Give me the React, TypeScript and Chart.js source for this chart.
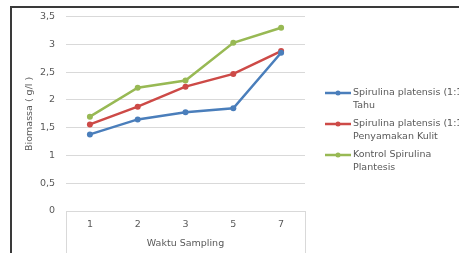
import React, { useEffect, useRef } from "react";
import { Chart, registerables } from "chart.js";

Chart.register(...registerables);

const categories = ["1", "2", "3", "5", "7"];
const seriesNames = [
  ["Spirulina platensis (1:1) Limbah", "Tahu"],
  ["Spirulina platensis (1:1) Limbah", "Penyamakan Kulit"],
  ["Kontrol Spirulina", "Plantesis"],
];
const tahuValues = [1.38, 1.65, 1.78, 1.85, 2.85];
const kulitValues = [1.56, 1.88, 2.24, 2.47, 2.88];
const kontrolValues = [1.7, 2.22, 2.35, 3.03, 3.3];
const seriesColors = ["#4A7EBB", "#CD4A47", "#98B954"];
const yTitle = "Biomassa ( g/l )";
const xTitle = "Waktu Sampling";

const FONT = "'DejaVu Sans', Verdana, sans-serif";

const framePlugin = {
  id: "frame",
  afterDraw(chart: any) {
    const ctx = chart.ctx;
    const a = chart.chartArea;
    ctx.save();
    // outer frame
    ctx.strokeStyle = "#3a3a3a";
    ctx.lineWidth = 2;
    ctx.beginPath();
    ctx.moveTo(11, 253);
    ctx.lineTo(11, 7);
    ctx.lineTo(459, 7);
    ctx.stroke();
    // category axis box
    ctx.strokeStyle = "#d9d9d9";
    ctx.lineWidth = 1;
    ctx.beginPath();
    ctx.moveTo(Math.round(a.left) + 0.5, a.bottom);
    ctx.lineTo(Math.round(a.left) + 0.5, 253);
    ctx.moveTo(Math.round(a.right) + 0.5, a.bottom);
    ctx.lineTo(Math.round(a.right) + 0.5, 253);
    ctx.stroke();
    // legend
    const lx = a.right + 20;
    const rowYs = [93, 124, 155];
    ctx.font = `9.5px ${FONT}`;
    ctx.textBaseline = "middle";
    ctx.textAlign = "left";
    chart.data.datasets.forEach((ds: any, i: number) => {
      const y = rowYs[i];
      ctx.strokeStyle = ds.borderColor;
      ctx.lineWidth = 2.5;
      ctx.beginPath();
      ctx.moveTo(lx, y);
      ctx.lineTo(lx + 26, y);
      ctx.stroke();
      ctx.fillStyle = ds.borderColor;
      ctx.beginPath();
      ctx.arc(lx + 13, y, 2.5, 0, Math.PI * 2);
      ctx.fill();
      ctx.fillStyle = "#595959";
      const lines = ds.label as string[];
      lines.forEach((t: string, j: number) => {
        ctx.fillText(t, lx + 28, y + j * 13);
      });
    });
    ctx.restore();
  },
};

export default function App() {
  const ref = useRef<HTMLCanvasElement>(null);
  useEffect(() => {
    if (!ref.current) return;
    const values = [tahuValues, kulitValues, kontrolValues];
    const chart = new Chart(ref.current, {
      type: "line",
      data: {
        labels: categories,
        datasets: values.map((v, i) => ({
          label: seriesNames[i] as any,
          data: v,
          borderColor: seriesColors[i],
          backgroundColor: seriesColors[i],
          borderWidth: 2.5,
          pointRadius: 3,
          pointBorderWidth: 0,
          tension: 0,
        })),
      },
      options: {
        animation: false,
        responsive: false,
        devicePixelRatio: 1,
        layout: { padding: { left: 18, top: 16, right: 154, bottom: 0 } },
        plugins: { legend: { display: false }, tooltip: { enabled: false } },
        scales: {
          x: {
            offset: true,
            grid: { display: false, drawTicks: false },
            border: { display: false },
            ticks: { color: "#595959", font: { family: FONT, size: 9.5 }, padding: 8 },
            title: {
              display: true,
              text: xTitle,
              color: "#595959",
              font: { family: FONT, size: 9.5 },
              padding: { top: 0, bottom: 4 },
            },
            afterFit(scale: any) {
              scale.height = 42;
            },
          },
          y: {
            min: 0,
            max: 3.5,
            ticks: {
              stepSize: 0.5,
              color: "#595959",
              font: { family: FONT, size: 9.5 },
              padding: 11,
              callback: (v: any) => String(v).replace(".", ","),
            },
            grid: { color: "#d9d9d9", drawTicks: false },
            border: { display: false },
            title: {
              display: true,
              text: yTitle,
              color: "#595959",
              font: { family: FONT, size: 9.5 },
              padding: { top: 6, bottom: 0 },
            },
            afterFit(scale: any) {
              scale.width = 48;
            },
          },
        },
      },
      plugins: [framePlugin],
    });
    return () => chart.destroy();
  }, []);
  return (
    <div
      style={{
        position: "absolute",
        left: 0,
        top: 0,
        width: 459,
        height: 253,
        overflow: "hidden",
        background: "#fff",
      }}
    >
      <canvas ref={ref} width={459} height={253} style={{ display: "block" }} />
    </div>
  );
}
